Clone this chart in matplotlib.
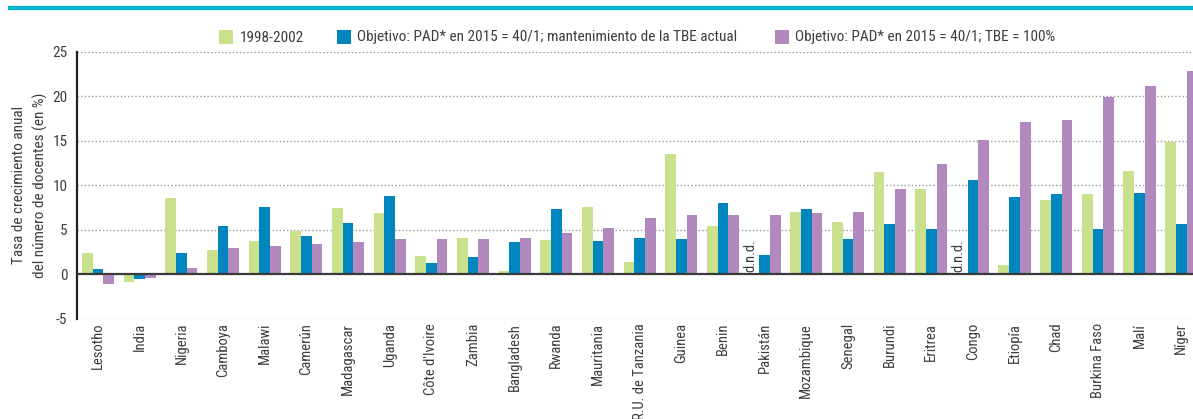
import numpy as np
import matplotlib
matplotlib.use("Agg")
import matplotlib.pyplot as plt
from matplotlib.patches import Rectangle
from matplotlib.lines import Line2D

plt.rcParams['font.family'] = ['Roboto Condensed', 'DejaVu Sans Condensed',
                               'Liberation Sans Narrow', 'Open Sans Condensed',
                               'DejaVu Sans']
plt.rcParams['font.stretch'] = 'condensed'

countries = ["Lesotho", "India", "Nigeria", "Camboya", "Malawi", "Camerún",
             "Madagascar", "Uganda", "Côte d'Ivoire", "Zambia", "Bangladesh",
             "Rwanda", "Mauritania", "R.U. de Tanzania", "Guinea", "Benin",
             "Pakistán", "Mozambique", "Senegal", "Burundi", "Eritrea", "Congo",
             "Etiopía", "Chad", "Burkina Faso", "Malí", "Níger"]

# Annual growth of teacher numbers (%); NaN = no data (d.n.d.)
growth_1998_2002 = [2.35, -0.9, 8.55, 2.7, 3.7, 4.8, 7.4, 6.85, 2.0, 4.1, 0.4,
                    3.8, 7.6, 1.4, 13.45, 5.4, np.nan, 6.95, 5.9, 11.45, 9.55,
                    np.nan, 1.0, 8.3, 9.0, 11.6, 14.85]
target_current_ger = [0.55, -0.55, 2.35, 5.4, 7.6, 4.25, 5.8, 8.75, 1.3, 1.9,
                      3.6, 7.3, 3.7, 4.1, 3.9, 7.95, 2.2, 7.3, 4.0, 5.6, 5.05,
                      10.55, 8.65, 9.0, 5.05, 9.1, 5.6]
target_ger_100 = [-1.1, -0.45, 0.68, 2.9, 3.2, 3.35, 3.6, 3.9, 3.9, 4.0, 4.1,
                  4.6, 5.15, 6.3, 6.6, 6.7, 6.7, 6.85, 6.95, 9.55, 12.4, 15.05,
                  17.1, 17.3, 19.9, 21.2, 22.85]

series_labels = ["1998-2002",
                 "Objetivo: PAD* en 2015 = 40/1; mantenimiento de la TBE actual",
                 "Objetivo: PAD* en 2015 = 40/1; TBE = 100%"]
yticks = [-5, 0, 5, 10, 15, 20, 25]

GREEN = "#c9e08c"
BLUE = "#0085bf"
PURPLE = "#b189be"
TEXT = "#3d3d3d"

W, H = 1193, 419
fig = plt.figure(figsize=(W / 100, H / 100), dpi=100)

# axes extends slightly past the right edge of the figure
ax = fig.add_axes([77.3 / W, 1 - 318.6 / H, (1202 - 77.3) / W, (318.6 - 51.7) / H])

x = np.arange(len(countries))
w = 0.257
ax.bar(x - w, growth_1998_2002, w, color=GREEN, zorder=3)
ax.bar(x, target_current_ger, w, color=BLUE, zorder=3)
ax.bar(x + w, target_ger_100, w, color=PURPLE, zorder=3)

for i, v in enumerate(growth_1998_2002):
    if np.isnan(v):
        ax.text(i - w - 0.08, 0.25, "d.n.d.", rotation=90, ha="center",
                va="bottom", fontsize=10.5, color=TEXT, zorder=4)

ax.set_xlim(-0.5, 26.5)
ax.set_ylim(-5, 25)
ax.set_yticks(yticks)
ax.set_yticklabels([str(t) for t in yticks], fontsize=11, color=TEXT)
ax.set_xticks(x)
ax.set_xticklabels(countries, rotation=90, fontsize=10.5, color=TEXT,
                   ha="center", va="top")
ax.tick_params(axis="both", length=0)
ax.tick_params(axis="y", pad=7)
ax.tick_params(axis="x", pad=3)

for s in ["top", "right", "bottom"]:
    ax.spines[s].set_visible(False)
ax.spines["left"].set_linewidth(1.6)
ax.spines["left"].set_color("#222222")

for t in yticks:
    if t != 0:
        ax.axhline(t, color="#9a9a9a", lw=1.0, linestyle=(0, (1, 1.6)), zorder=1)
ax.axhline(0, color="#3a3a3a", lw=1.6, zorder=5)

fig.text(30 / W, 1 - 185 / H,
         "Tasa de crecimiento anual\ndel número de docentes (en %)",
         rotation=90, ha="center", va="center", multialignment="center",
         fontsize=11, color=TEXT, linespacing=1.5)

# top rule
fig.add_artist(Line2D([10 / W, 1], [1 - 7.8 / H, 1 - 7.8 / H],
                      color="#00b5cb", lw=3.1, transform=fig.transFigure))

# legend
legend_items = [(219, 240, GREEN), (337, 357, BLUE), (775, 795, PURPLE)]
for (sq_x, tx, col), lab in zip(legend_items, series_labels):
    fig.add_artist(Rectangle((sq_x / W, 1 - 44 / H), 14 / W, 14 / H,
                             facecolor=col, edgecolor="none",
                             transform=fig.transFigure))
    fig.text(tx / W, 1 - 37.5 / H, lab, ha="left", va="center",
             fontsize=11, color=TEXT)

fig.savefig("out.png", dpi=100)
